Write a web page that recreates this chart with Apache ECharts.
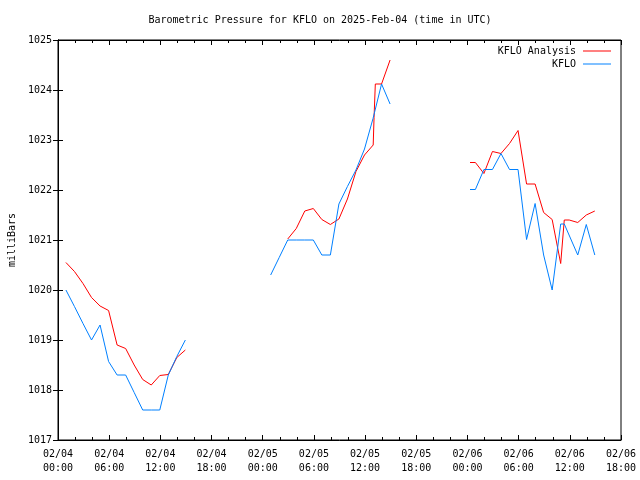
<!DOCTYPE html>
<html><head><meta charset="utf-8">
<script src="https://cdn.jsdelivr.net/npm/echarts@6/dist/echarts.min.js"></script>
<style>html,body{margin:0;padding:0;background:#fff}#c{width:640px;height:480px}</style>
</head><body><div id="c"></div>
<script>
// hours since 2025-02-04 00:00 UTC
const obsTimes1 = [0.93,1.93,2.93,3.93,4.93,5.93,6.93,7.93,8.93,9.93,10.93,11.93,12.93,13.93,14.93];
const obsVals1  = [1020.0,1019.67,1019.33,1019.0,1019.3,1018.57,1018.3,1018.3,1017.95,1017.6,1017.6,1017.6,1018.3,1018.67,1019.0];
const anaTimes1 = [0.93,1.93,2.93,3.93,4.93,5.93,6.93,7.93,8.93,9.93,10.93,11.93,12.93,13.93,14.93];
const anaVals1  = [1020.55,1020.37,1020.13,1019.85,1019.68,1019.59,1018.9,1018.83,1018.5,1018.21,1018.1,1018.29,1018.31,1018.65,1018.8];

const obsTimes2 = [24.93,25.93,26.93,27.93,28.93,29.93,30.93,31.93,32.93,33.93,34.93,35.93,36.93,37.93,38.93];
const obsVals2  = [1020.3,1020.65,1021.0,1021.0,1021.0,1021.0,1020.7,1020.7,1021.72,1022.07,1022.4,1022.82,1023.43,1024.12,1023.72];
const anaTimes2 = [26.93,27.93,28.93,29.93,30.93,31.93,32.93,33.93,34.93,35.93,36.95,37.05,37.2,37.93,38.93];
const anaVals2  = [1021.02,1021.23,1021.58,1021.63,1021.41,1021.31,1021.42,1021.82,1022.37,1022.7,1022.9,1023.45,1024.12,1024.12,1024.6];

const obsTimes3 = [48.3,48.93,49.93,50.93,51.93,52.93,53.93,54.93,55.93,56.93,57.93,58.93,59.35,60.93,61.93,62.93];
const obsVals3  = [1022.01,1022.01,1022.41,1022.41,1022.73,1022.41,1022.41,1021.01,1021.73,1020.7,1020.0,1021.32,1021.32,1020.7,1021.31,1020.7];
const anaTimes3 = [48.3,48.93,49.93,50.93,51.93,52.93,53.93,54.93,55.93,56.93,57.93,58.93,59.35,59.93,60.93,61.93,62.93];
const anaVals3  = [1022.55,1022.55,1022.33,1022.77,1022.73,1022.93,1023.19,1022.12,1022.12,1021.55,1021.41,1020.53,1021.4,1021.4,1021.35,1021.5,1021.58];

const dayLabels = ['02/04','02/05','02/06','02/07'];
const hourLabels = ['00:00','06:00','12:00','18:00'];

const FONT = 'DejaVu Sans Mono';
const RED = '#ff0000', BLUE = '#0080ff';
const zip = (t, v) => t.map((x, i) => [x, v[i]]);

function lineSeries(name, color, t, v) {
  return { name, type: 'line', data: zip(t, v), symbol: 'none', showSymbol: false,
    lineStyle: { color, width: 1 }, itemStyle: { color }, animation: false, z: name === 'KFLO' ? 3 : 2 };
}

const xCommon = { type: 'value', min: 0, max: 66, interval: 6,
  axisLine: { show: true, lineStyle: { color: '#000', width: 1 } },
  axisTick: { show: true, inside: true, length: 5, lineStyle: { color: '#000' } },
  minorTick: { show: true, splitNumber: 3, length: 3, lineStyle: { color: '#000' } },
  splitLine: { show: false } };
const yCommon = { type: 'value', min: 1017, max: 1025, interval: 1,
  axisLine: { show: true, lineStyle: { color: '#000', width: 1 } },
  axisTick: { show: true, inside: true, length: 5, lineStyle: { color: '#000' } },
  splitLine: { show: false } };

const chart = echarts.init(document.getElementById('c'), null, { renderer: 'canvas' });
chart.setOption({
  animation: false,
  backgroundColor: '#fff',
  title: { text: 'Barometric Pressure for KFLO on 2025-Feb-04 (time in UTC)', left: 'center', top: 10,
    textStyle: { fontFamily: FONT, fontSize: 10, fontWeight: 'normal', color: '#000' } },
  legend: { right: 24, top: 41, orient: 'vertical', align: 'right', itemGap: 3, itemWidth: 28, itemHeight: 1,
    icon: 'rect', data: ['KFLO Analysis', 'KFLO'],
    textStyle: { fontFamily: FONT, fontSize: 10, color: '#000', padding: [0, 2, 0, 0] } },
  grid: { left: 58, right: 19, top: 40, bottom: 40, show: true, borderColor: '#000', borderWidth: 1,
    containLabel: false, outerBoundsMode: 'none' },
  xAxis: [
    Object.assign({}, xCommon, { position: 'bottom',
      axisLabel: { fontFamily: FONT, fontSize: 10, color: '#000', margin: 7, lineHeight: 14,
        formatter: v => dayLabels[Math.floor(v / 24)] + '\n' + hourLabels[Math.round((v % 24) / 6)] } }),
    Object.assign({}, xCommon, { position: 'top', axisLabel: { show: false } })
  ],
  yAxis: [
    Object.assign({}, yCommon, { position: 'left', name: 'milliBars', nameLocation: 'middle', nameGap: 41, nameRotate: 90,
      nameTextStyle: { fontFamily: FONT, fontSize: 10, color: '#000' },
      axisLabel: { fontFamily: FONT, fontSize: 10, color: '#000', margin: 6, formatter: v => String(v) } }),
    Object.assign({}, yCommon, { position: 'right', axisLabel: { show: false } })
  ],
  series: [
    lineSeries('KFLO Analysis', RED, anaTimes1, anaVals1),
    lineSeries('KFLO Analysis', RED, anaTimes2, anaVals2),
    lineSeries('KFLO Analysis', RED, anaTimes3, anaVals3),
    lineSeries('KFLO', BLUE, obsTimes1, obsVals1),
    lineSeries('KFLO', BLUE, obsTimes2, obsVals2),
    lineSeries('KFLO', BLUE, obsTimes3, obsVals3)
  ]
});
</script></body></html>
